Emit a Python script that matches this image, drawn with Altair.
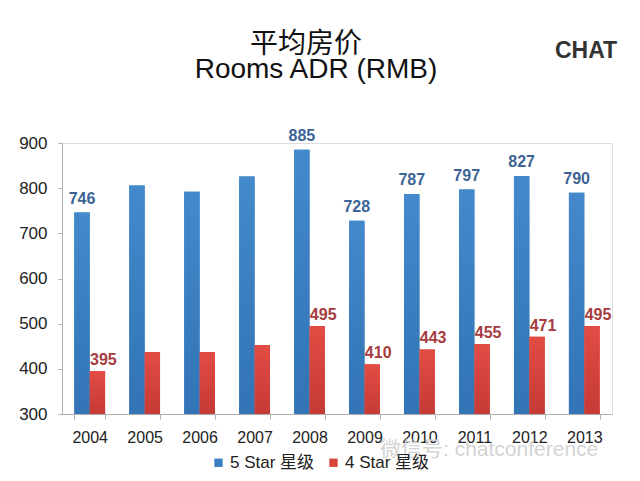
import altair as alt
import pandas as pd

years = ["2004", "2005", "2006", "2007", "2008", "2009", "2010", "2011", "2012", "2013"]
five_star = [746, 806, 792, 826, 885, 728, 787, 797, 827, 790]
four_star = [395, 437, 437, 453, 495, 410, 443, 455, 471, 495]
labeled = [True, False, False, False, True, True, True, True, True, True]
series = ["5 Star 星级", "4 Star 星级"]

rows = []
for y, a, b, l in zip(years, five_star, four_star, labeled):
    rows.append({"year": y, "series": series[0], "value": a, "label": str(a) if l else ""})
    rows.append({"year": y, "series": series[1], "value": b, "label": str(b) if l else ""})
df = pd.DataFrame(rows)

FONT = "Liberation Sans, Noto Sans CJK SC, sans-serif"

xenc = alt.X("year:N", sort=years, title=None,
             scale=alt.Scale(paddingInner=0.44, paddingOuter=0.224),
             axis=alt.Axis(labelAngle=0, labelFontSize=16, labelColor="#222", labelPadding=10,
                           domainColor="#b0b0b0", tickColor="#b0b0b0", tickSize=5,
                           tickBand="extent", labelFont=FONT))
xoff = alt.XOffset("series:N", sort=series)
yenc = alt.Y("value:Q", title=None,
             scale=alt.Scale(domain=[300, 900], nice=False, zero=False),
             axis=alt.Axis(values=[300, 400, 500, 600, 700, 800, 900], grid=False,
                           labelFontSize=17, labelColor="#222", labelPadding=11,
                           domainColor="#b0b0b0", tickColor="#b0b0b0", tickSize=4,
                           labelFont=FONT))
y2enc = alt.Y2(datum=300)

base = alt.Chart(df)

bars = base.mark_bar().encode(
    x=xenc, xOffset=xoff, y=yenc, y2=y2enc,
    color=alt.Color("series:N", sort=series,
                    scale=alt.Scale(domain=series, range=["#3b80c2", "#d9443d"]),
                    legend=alt.Legend(title=None, orient="none", legendX=148, legendY=311,
                                      direction="horizontal", symbolType="square",
                                      symbolSize=70, symbolStrokeWidth=0,
                                      labelFontSize=17, labelColor="#222", labelFont=FONT,
                                      labelOffset=3, columnPadding=10, padding=0)),
)

blue_grad = alt.Gradient(gradient="linear", x1=0, y1=0, x2=0, y2=1,
                         stops=[alt.GradientStop(color="#4389cb", offset=0),
                                alt.GradientStop(color="#3274b6", offset=1)])
red_grad = alt.Gradient(gradient="linear", x1=0, y1=0, x2=0, y2=1,
                        stops=[alt.GradientStop(color="#e24c44", offset=0),
                               alt.GradientStop(color="#c63a35", offset=1)])

blue_bars = base.mark_bar(color=blue_grad).encode(
    x=xenc, xOffset=xoff, y=yenc, y2=y2enc).transform_filter(alt.datum.series == series[0])
red_bars = base.mark_bar(color=red_grad).encode(
    x=xenc, xOffset=xoff, y=yenc, y2=y2enc).transform_filter(alt.datum.series == series[1])

blue_labels = base.mark_text(dy=-9, baseline="alphabetic", fontSize=16, fontWeight="bold",
                             color="#3d6496", font=FONT).encode(
    x=xenc, xOffset=xoff, y=yenc, text="label:N").transform_filter(alt.datum.series == series[0])
red_labels = base.mark_text(dy=-6, dx=6, baseline="alphabetic", fontSize=16, fontWeight="bold",
                            color="#a63c40", font=FONT).encode(
    x=xenc, xOffset=xoff, y=yenc, text="label:N").transform_filter(alt.datum.series == series[1])

title_cn = ["平均房价"]
title_en = ["Rooms ADR (RMB)"]
logo = ["CHAT"]
watermark = ["微信号: chatconference"]

t1 = alt.Chart(pd.DataFrame({"t": title_cn})).mark_text(
    fontSize=28, color="#111", font=FONT, align="center", baseline="alphabetic").encode(
    text="t:N", x=alt.value(244), y=alt.value(-90))
t2 = alt.Chart(pd.DataFrame({"t": title_en})).mark_text(
    fontSize=28, color="#111", font=FONT, align="center", baseline="alphabetic").encode(
    text="t:N", x=alt.value(254), y=alt.value(-65))
t3 = alt.Chart(pd.DataFrame({"t": logo})).mark_text(
    fontSize=23, fontWeight="bold", color="#333", font=FONT, align="center", baseline="alphabetic").encode(
    text="t:N", x=alt.value(524), y=alt.value(-85))
t4 = alt.Chart(pd.DataFrame({"t": watermark})).mark_text(
    fontSize=21, color="#d4d4d4", font=FONT, align="left", baseline="alphabetic").encode(
    text="t:N", x=alt.value(318), y=alt.value(313))

chart = alt.layer(bars, blue_bars, red_bars, blue_labels, red_labels, t1, t2, t3, t4).properties(
    width=550, height=271,
    autosize=alt.AutoSizeParams(type="none"),
    padding={"left": 54, "top": 135, "right": 20, "bottom": 62},
).configure_view(stroke=None).configure(background="white")

chart.save("out.html", embed_options={"renderer": "svg", "actions": False})
